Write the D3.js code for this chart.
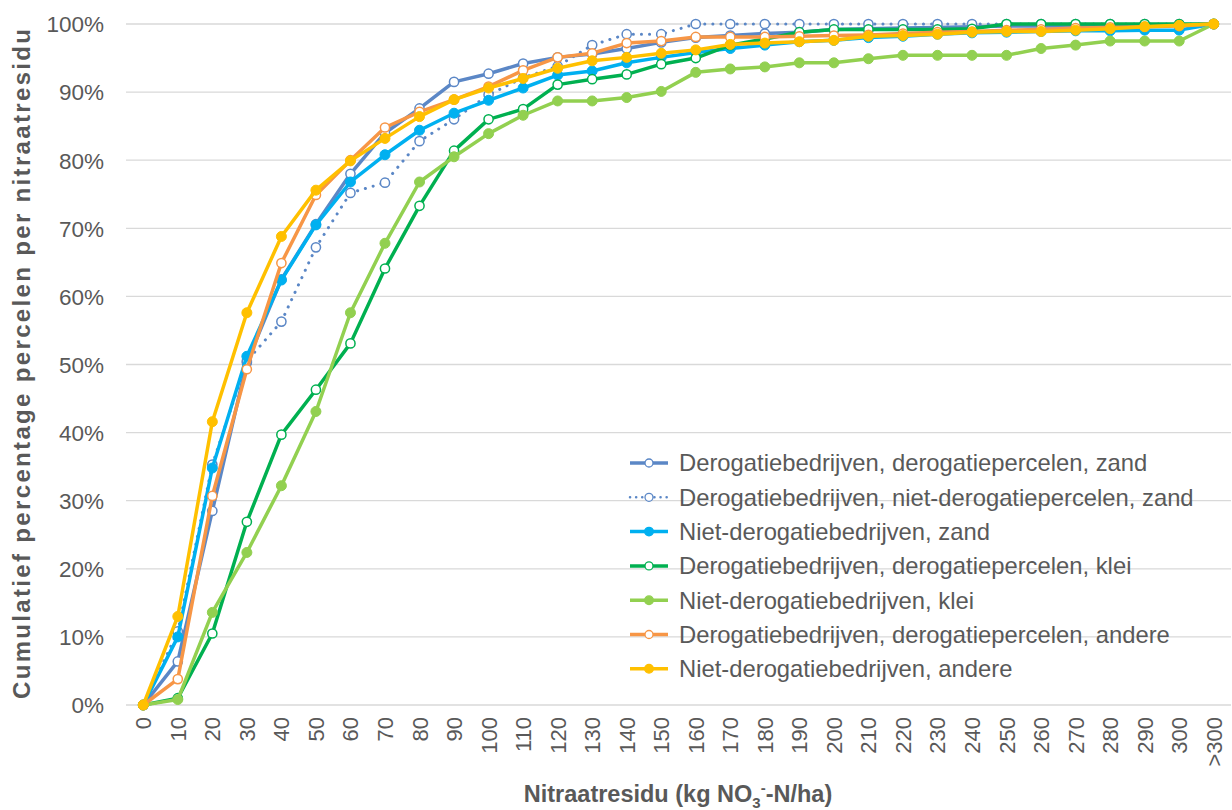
<!DOCTYPE html>
<html>
<head>
<meta charset="utf-8">
<script src="https://cdn.jsdelivr.net/npm/d3@7"></script>
<style>
  html, body { margin: 0; padding: 0; background: #fff; }
  svg { display: block; font-family: "Liberation Sans", Arial, sans-serif; }
</style>
</head>
<body>
<svg id="chart" width="1232" height="810"></svg>
<script>
const categories = ["0","10","20","30","40","50","60","70","80","90","100","110","120","130","140","150","160","170","180","190","200","210","220","230","240","250","260","270","280","290","300",">300"];

const seriesNames = [
  "Derogatiebedrijven, derogatiepercelen, zand",
  "Derogatiebedrijven, niet-derogatiepercelen, zand",
  "Niet-derogatiebedrijven, zand",
  "Derogatiebedrijven, derogatiepercelen, klei",
  "Niet-derogatiebedrijven, klei",
  "Derogatiebedrijven, derogatiepercelen, andere",
  "Niet-derogatiebedrijven, andere"
];

const derogZand = [0,6.4,28.5,50.3,62.5,70.6,78.0,84.0,87.6,91.5,92.7,94.2,95.1,95.6,96.4,97.3,98.0,98.3,98.6,98.8,99.2,99.3,99.4,99.5,99.6,99.7,99.7,99.7,99.8,99.8,99.8,100];
const derogNietDerogZand = [0,10.8,35.3,50.5,56.3,67.2,75.2,76.7,82.8,86.0,89.6,92.1,93.8,96.9,98.5,98.5,100,100,100,100,100,100,100,100,100,100,100,100,100,100,100,100];
const nietDerogZand = [0,10.0,34.8,51.2,62.4,70.5,76.8,80.8,84.4,86.9,88.8,90.6,92.5,93.1,94.3,95.1,95.8,96.4,96.9,97.4,97.6,98.0,98.2,98.5,98.7,98.8,98.9,99.0,99.0,99.1,99.1,100];
const derogKlei = [0,1.0,10.5,26.9,39.7,46.3,53.1,64.1,73.3,81.4,86.0,87.5,91.1,91.9,92.6,94.1,95.0,96.9,97.8,98.8,99.2,99.2,99.2,99.2,99.3,100,100,100,100,100,100,100];
const nietDerogKlei = [0,0.8,13.6,22.4,32.2,43.1,57.6,67.8,76.8,80.5,83.9,86.6,88.7,88.7,89.2,90.1,92.9,93.4,93.7,94.3,94.3,94.9,95.4,95.4,95.4,95.4,96.4,96.9,97.5,97.5,97.5,100];
const derogAndere = [0,3.8,30.7,49.3,64.9,74.9,80.0,84.8,87.1,88.9,90.8,93.2,95.1,95.7,97.2,97.5,98.1,98.1,98.1,98.2,98.3,98.4,98.6,98.8,98.9,99.1,99.2,99.4,99.5,99.6,99.7,100];
const nietDerogAndere = [0,13.0,41.6,57.6,68.8,75.6,79.9,83.2,86.4,88.9,90.6,92.0,93.5,94.6,95.1,95.7,96.2,97.0,97.2,97.4,97.6,98.2,98.3,98.5,98.8,98.9,98.9,99.1,99.3,99.6,99.8,100];

const yTicks = [0,10,20,30,40,50,60,70,80,90,100];

const seriesValues = [derogZand, derogNietDerogZand, nietDerogZand, derogKlei, nietDerogKlei, derogAndere, nietDerogAndere];
const seriesColors = ["#5B87C6", "#5B87C6", "#00B0F0", "#00B050", "#92D050", "#F79646", "#FFC000"];
const seriesHollow = [true, true, false, true, false, true, false];
const seriesDotted = [false, true, false, false, false, false, false];

const svg = d3.select("#chart");
const textColor = "#595959";

const x = d3.scaleBand().domain(categories).range([126, 1231]).paddingInner(0).paddingOuter(0);
const y = d3.scaleLinear().domain([0, 100]).range([705, 24]);
const cx = d => x(d) + x.bandwidth() / 2;

// gridlines
svg.append("g").selectAll("line").data(yTicks).join("line")
  .attr("x1", 126).attr("x2", 1231)
  .attr("y1", d => y(d)).attr("y2", d => y(d))
  .attr("stroke", "#d9d9d9").attr("stroke-width", 1.3);

// y axis labels
const yAxis = d3.axisLeft(y).tickValues(yTicks).tickFormat(d => d + "%").tickSize(0).tickPadding(0);
const yg = svg.append("g").attr("transform", "translate(104,0)").call(yAxis);
yg.select(".domain").remove();
yg.selectAll("text").attr("font-size", 22.5).attr("fill", textColor).attr("font-family", "Liberation Sans, Arial, sans-serif").attr("dy", "0.35em");

// x axis labels
const xAxis = d3.axisBottom(x).tickSize(0).tickPadding(0);
const xg = svg.append("g").attr("transform", "translate(0,717)").call(xAxis);
xg.select(".domain").remove();
xg.selectAll("text")
  .attr("font-size", 22).attr("fill", textColor).attr("font-family", "Liberation Sans, Arial, sans-serif")
  .attr("text-anchor", "end").attr("dy", null).attr("y", 0).attr("x", 0)
  .attr("transform", "rotate(-90) translate(0,8)");

// series lines
const line = d3.line().x((d, i) => cx(categories[i])).y(d => y(d));
seriesValues.forEach((vals, s) => {
  const g = svg.append("g");
  g.append("path").datum(vals)
    .attr("fill", "none").attr("stroke", seriesColors[s])
    .attr("stroke-width", seriesDotted[s] ? 3 : 3.5)
    .attr("stroke-linejoin", "round").attr("stroke-linecap", "round")
    .attr("stroke-dasharray", seriesDotted[s] ? "0.1 8" : null)
    .attr("d", line);
  g.selectAll("circle").data(vals).join("circle")
    .attr("cx", (d, i) => cx(categories[i])).attr("cy", d => y(d))
    .attr("r", seriesHollow[s] ? 4.6 : 5)
    .attr("fill", seriesHollow[s] ? "#fff" : seriesColors[s])
    .attr("stroke", seriesColors[s]).attr("stroke-width", seriesHollow[s] ? 1.5 : 1);
});

// legend
const legend = svg.append("g").attr("transform", "translate(630,463)");
seriesNames.forEach((name, s) => {
  const row = legend.append("g").attr("transform", `translate(0,${s * 34.3})`);
  row.append("line").attr("x1", 0).attr("x2", 38).attr("y1", 0).attr("y2", 0)
    .attr("stroke", seriesColors[s]).attr("stroke-width", seriesDotted[s] ? 2.5 : 3.5)
    .attr("stroke-linecap", seriesDotted[s] ? "round" : "butt")
    .attr("stroke-dasharray", seriesDotted[s] ? "0.1 6" : null);
  row.append("circle").attr("cx", 19).attr("cy", 0).attr("r", seriesHollow[s] ? 4 : 4.3)
    .attr("fill", seriesHollow[s] ? "#fff" : seriesColors[s])
    .attr("stroke", seriesColors[s]).attr("stroke-width", 1.3);
  row.append("text").attr("x", 49).attr("y", 0).attr("dy", "0.35em")
    .attr("font-size", 23.8).attr("fill", textColor).text(name);
});

// y title
svg.append("text")
  .attr("transform", "translate(30,364) rotate(-90)")
  .attr("text-anchor", "middle").attr("font-size", 24).attr("font-weight", "bold")
  .attr("textLength", 670).attr("lengthAdjust", "spacing")
  .attr("fill", textColor).text("Cumulatief percentage percelen per nitraatresidu");

// x title
const xt = svg.append("text").attr("x", 678).attr("y", 802).attr("text-anchor", "middle")
  .attr("font-size", 23.5).attr("font-weight", "bold").attr("fill", textColor);
xt.append("tspan").text("Nitraatresidu (kg NO");
xt.append("tspan").attr("font-size", 15).attr("dy", 6).text("3");
xt.append("tspan").attr("font-size", 15).attr("dy", -15).text("-");
xt.append("tspan").attr("dy", 9).text("-N/ha)");
</script>
</body>
</html>
